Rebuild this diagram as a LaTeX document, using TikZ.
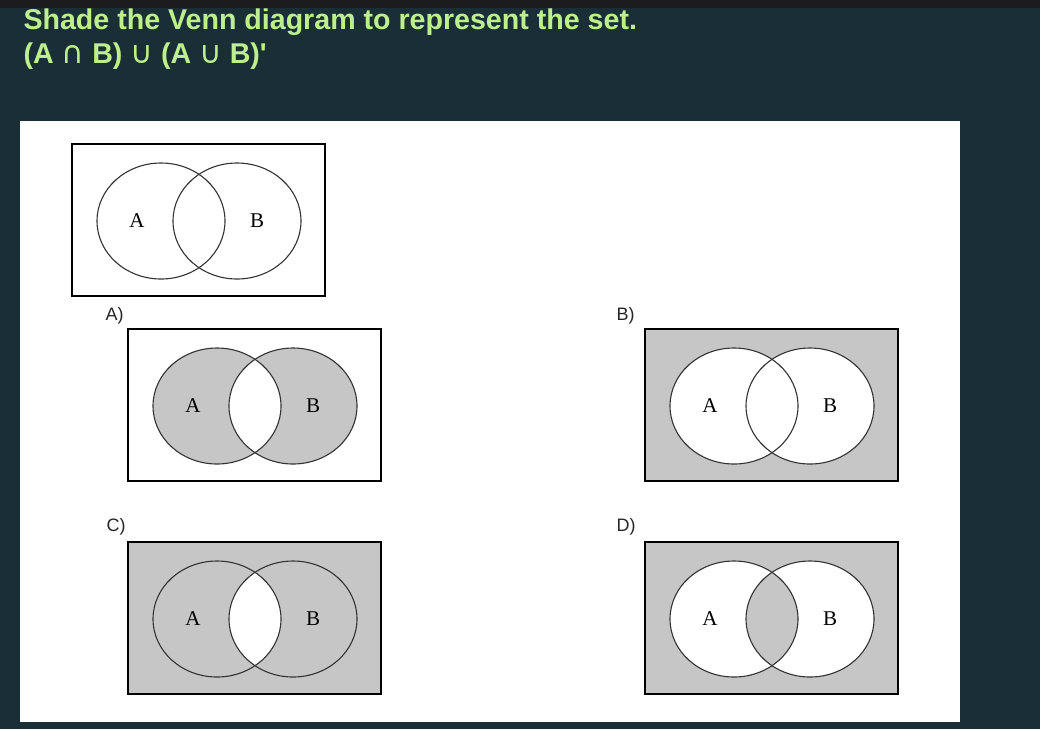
\documentclass[tikz,border=0pt]{standalone}
\usepackage{fontspec}
\setmainfont{Liberation Serif}
\setsansfont{Liberation Sans}
\newfontfamily\symfont{DejaVu Sans}
\definecolor{bgdark}{HTML}{192E35}
\definecolor{topbar}{HTML}{1C1C1E}
\definecolor{titlegreen}{HTML}{BDF08C}
\definecolor{dotgray}{HTML}{C6C6C6}
\definecolor{edge}{HTML}{333333}
\newcommand\ringA{(89,77) ellipse [x radius=64pt,y radius=58pt]}
\newcommand\ringB{(165,77) ellipse [x radius=64pt,y radius=58pt]}
\newcommand\opsym[1]{{\symfont\mdseries\fontsize{31}{28}\selectfont #1}}

\begin{document}
\begin{tikzpicture}[x=1pt,y=-1pt,
  frame/.style={draw=black,line width=1.2pt},
  ring/.style={draw=edge,line width=1.1pt},
  setlabel/.style={font=\fontsize{21}{21}\selectfont,text=black},
  optlabel/.style={font=\sffamily\fontsize{18}{18}\selectfont,text=black!85,anchor=base west},
  titletext/.style={font=\sffamily\bfseries\fontsize{28.6}{28.6}\selectfont,text=titlegreen,anchor=base west}]
\fill[bgdark] (0,0) rectangle (1040,729);
\fill[topbar] (0,0) rectangle (1040,8);
\fill[white] (20,121) rectangle (960,722);
\node[titletext] (title) at (20,29) {Shade the Venn diagram to represent the set.};
\node[titletext] (question) at (20,63) {(A \opsym{∩} B) \opsym{∪} (A \opsym{∪} B)\textquotesingle};
\coordinate (q) at (72,144);
\coordinate (a) at (128,329);
\coordinate (b) at (645,329);
\coordinate (c) at (128,542);
\coordinate (d) at (645,542);
\begin{scope}[shift={(a)}]
  \fill[dotgray] \ringA;
  \fill[dotgray] \ringB;
  \begin{scope}
    \clip \ringA;
    \fill[white] \ringB;
  \end{scope}
\end{scope}
\begin{scope}[shift={(b)}]
  \fill[dotgray] (0,0) rectangle (253,152);
  \fill[white] \ringA;
  \fill[white] \ringB;
\end{scope}
\begin{scope}[shift={(c)}]
  \fill[dotgray] (0,0) rectangle (253,152);
  \begin{scope}
    \clip \ringA;
    \fill[white] \ringB;
  \end{scope}
\end{scope}
\begin{scope}[shift={(d)}]
  \fill[dotgray] (0,0) rectangle (253,152);
  \fill[white] \ringA;
  \fill[white] \ringB;
  \begin{scope}
    \clip \ringA;
    \fill[dotgray] \ringB;
  \end{scope}
\end{scope}
\foreach \p in {q,a,b,c,d}
{
  \begin{scope}[shift={(\p)}]
    \draw[frame] (0,0) rectangle (253,152);
    \draw[ring] \ringA;
    \draw[ring] \ringB;
    \node[setlabel] (\p-A) at (65,77) {A};
    \node[setlabel] (\p-B) at (185,77) {B};
  \end{scope}
}
\node[optlabel] (optA) at (102,320) {A)};
\node[optlabel] (optB) at (613,320) {B)};
\node[optlabel] (optC) at (103,531) {C)};
\node[optlabel] (optD) at (613,531) {D)};
\end{tikzpicture}
\end{document}
